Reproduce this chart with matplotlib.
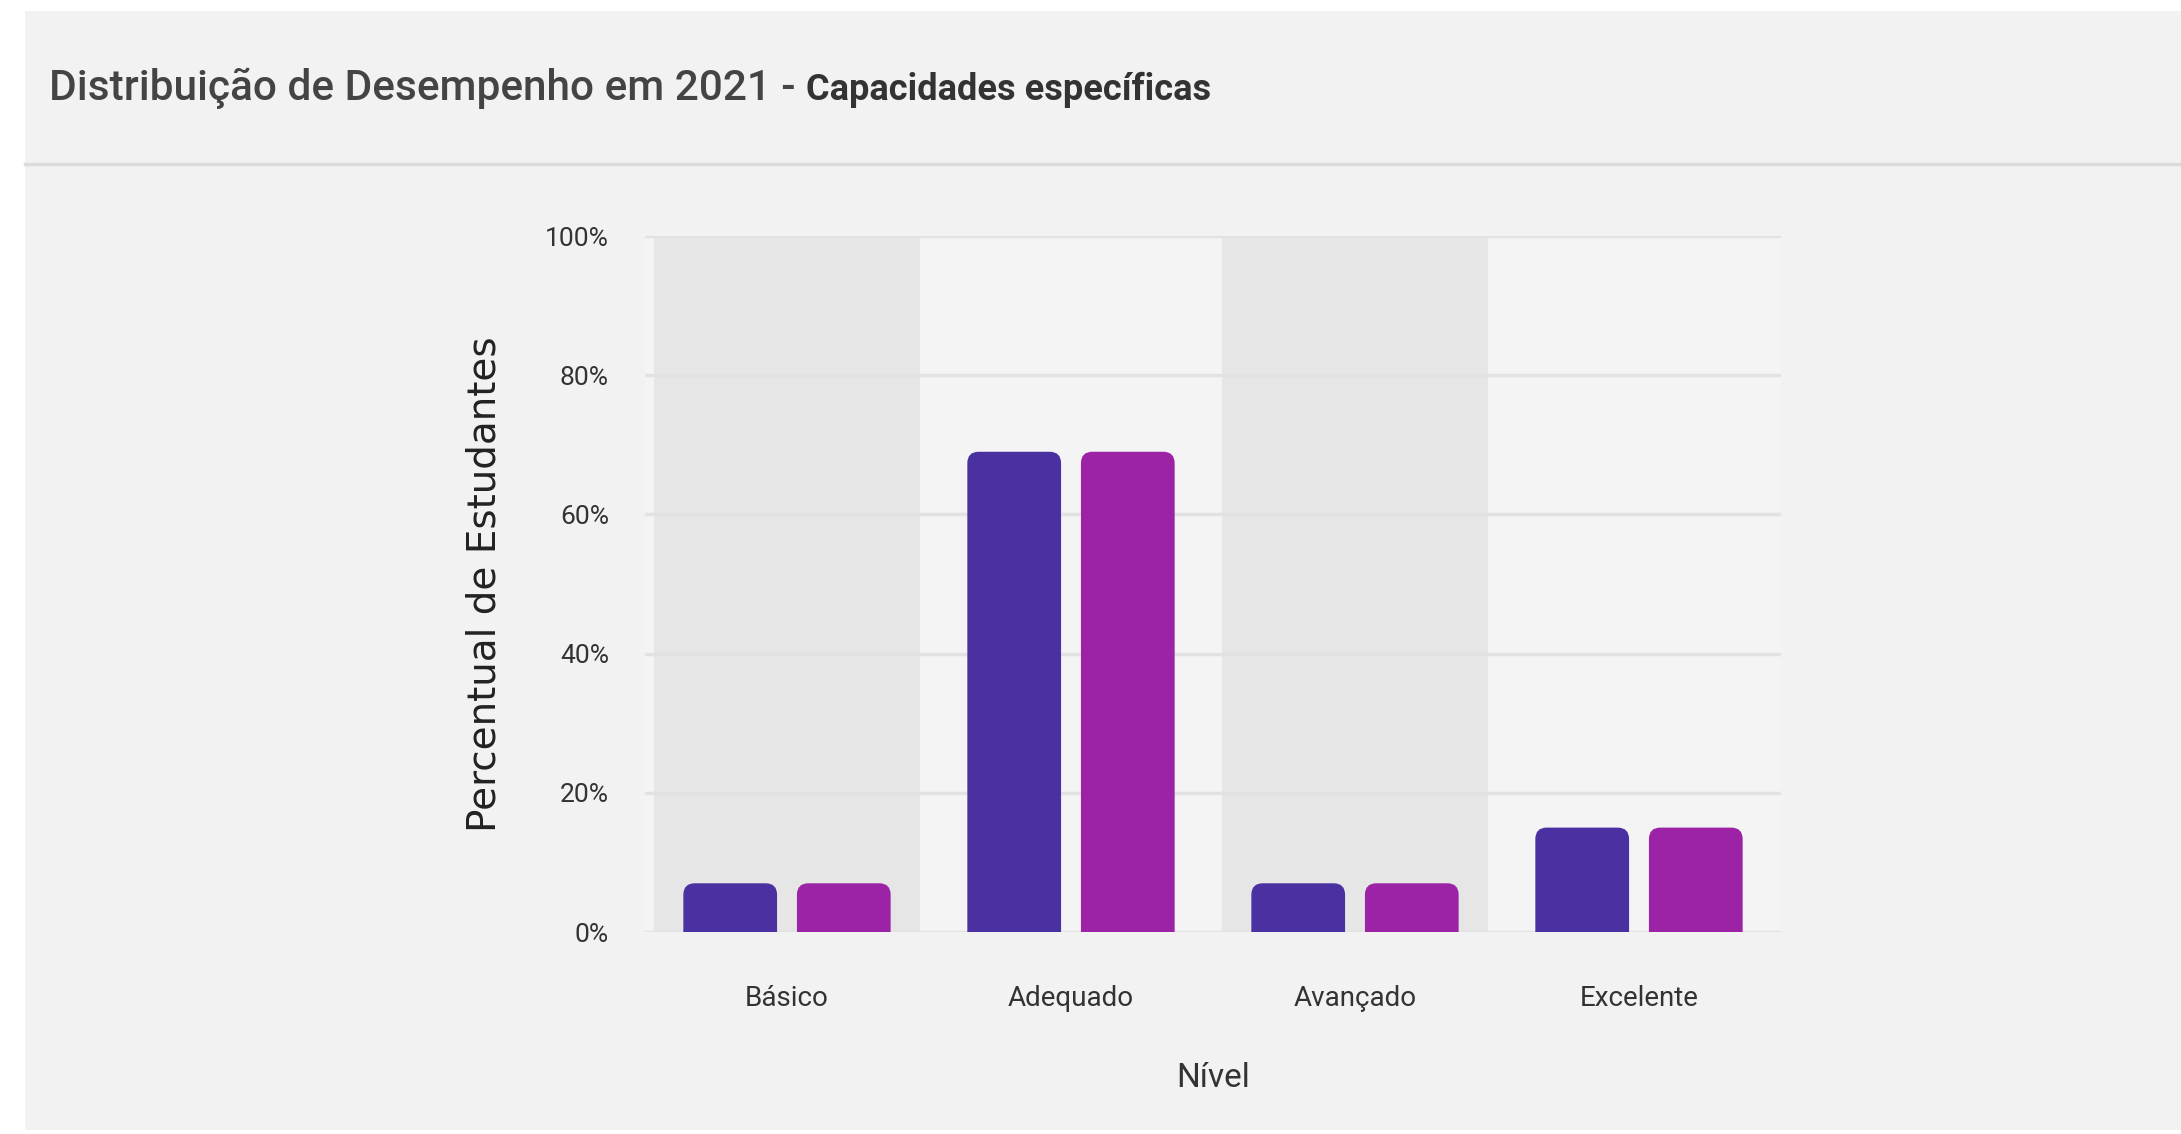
import matplotlib
matplotlib.use("Agg")
import matplotlib.pyplot as plt
from matplotlib.patches import FancyBboxPatch, Rectangle
from matplotlib.ticker import FuncFormatter
import numpy as np

# data
niveis = ["Básico", "Adequado", "Avançado", "Excelente"]
serie_a = [7, 69, 7, 15]   # purple
serie_b = [7, 69, 7, 15]   # magenta
yticks = [0, 20, 40, 60, 80, 100]

titulo = "Distribuição de Desempenho em 2021 - "
subtitulo = "Capacidades específicas"
ylabel = "Percentual de Estudantes"
xlabel = "Nível"

cor_a = "#4B30A1"
cor_b = "#9C23A6"
narrow = ["Roboto", "DejaVu Sans"]

fig = plt.figure(figsize=(21.81, 11.34), dpi=100, facecolor="white")

# card background + header separator
fig.patches.append(Rectangle((25 / 2181, 4 / 1134), 1, 1 - 15 / 1134, transform=fig.transFigure,
                             facecolor="#F2F2F2", edgecolor="none", zorder=-10))
fig.add_artist(plt.Line2D([25 / 2181, 1], [1 - 164 / 1134] * 2, transform=fig.transFigure,
                          color="#DCDCDC", lw=2.5))

ax = fig.add_axes([645 / 2181, 1 - 932 / 1134, 1136 / 2181, 696 / 1134])
ax.set_facecolor("#F4F4F4")

x = np.arange(len(niveis))
w = 0.33
off = 0.2

# alternating category bands
for i in x:
    if i % 2 == 0:
        ax.axvspan(i - 0.47, i + 0.47, color="#E6E6E6", zorder=0, lw=0)

ax.set_xlim(-0.5, len(niveis) - 0.5)
ax.set_ylim(0, 100)

# bars with rounded tops (bottom corners clipped at 0)
r = 0.04
aspect = 41
for vals, dx, cor in [(serie_a, -off, cor_a), (serie_b, off, cor_b)]:
    bars = ax.bar(x + dx, vals, width=w, color=cor, zorder=3)
    for b in bars:
        b.set_visible(False)
        p = FancyBboxPatch((b.get_x(), -3), b.get_width(), b.get_height() + 3,
                           boxstyle=f"round,pad=0,rounding_size={r}",
                           mutation_aspect=aspect, facecolor=cor, edgecolor="none",
                           zorder=3)
        ax.add_patch(p)

ax.set_yticks(yticks)
ax.yaxis.set_major_formatter(FuncFormatter(lambda v, _: f"{v:.0f}%"))
ax.grid(axis="y", color="#E2E2E2", lw=2.5, zorder=1)
ax.set_axisbelow(False)
ax.set_xticks(x)
ax.set_xticklabels(niveis)
for s in ax.spines.values():
    s.set_visible(False)
ax.tick_params(length=0)
ax.tick_params(axis="y", pad=26, labelsize=19, labelcolor="#333333")
ax.tick_params(axis="x", pad=38, labelsize=20, labelcolor="#333333")
for t in ax.get_xticklabels() + ax.get_yticklabels():
    t.set_family(narrow)

ax.set_ylabel(ylabel, fontsize=28, color="#222222", labelpad=30, family="DejaVu Sans")
ax.set_xlabel(xlabel, fontsize=24, color="#333333", labelpad=36, family=narrow)

# title in two weights
t1 = fig.text(49 / 2181, 1 - 88 / 1134, titulo, fontsize=30.5, color="#444444",
              va="center", ha="left", family=narrow, fontweight="medium")
fig.canvas.draw()
bb = t1.get_window_extent()
fig.text(bb.x1 / 2181, 1 - 90 / 1134, subtitulo, fontsize=26, color="#333333",
         va="center", ha="left", family=narrow, fontweight="bold")

fig.savefig("out.png", dpi=100, facecolor=fig.get_facecolor())
